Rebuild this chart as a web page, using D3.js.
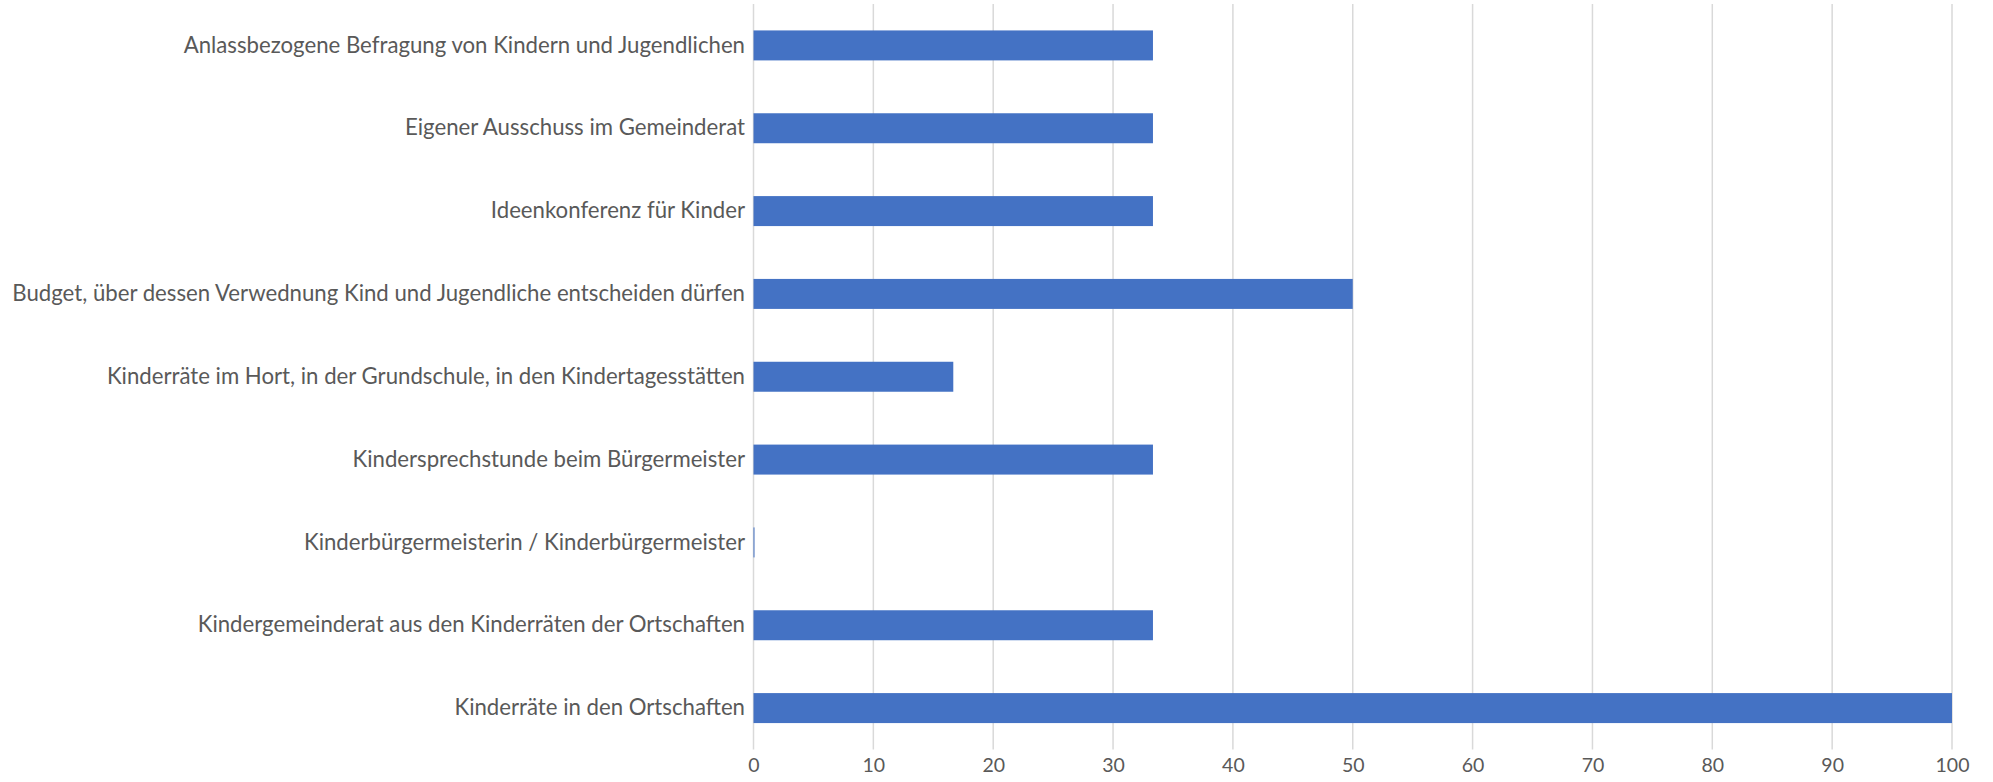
<!DOCTYPE html>
<html><head><meta charset="utf-8">
<script src="https://cdn.jsdelivr.net/npm/d3@7"></script>
<style>body{margin:0;background:#fff}svg{display:block}</style>
</head><body><svg id="c" width="1993" height="782"></svg>
<script>
const categories = [
  "Anlassbezogene Befragung von Kindern und Jugendlichen",
  "Eigener Ausschuss im Gemeinderat",
  "Ideenkonferenz für Kinder",
  "Budget, über dessen Verwednung Kind und Jugendliche entscheiden dürfen",
  "Kinderräte im Hort, in der Grundschule, in den Kindertagesstätten",
  "Kindersprechstunde beim Bürgermeister",
  "Kinderbürgermeisterin / Kinderbürgermeister",
  "Kindergemeinderat aus den Kinderräten der Ortschaften",
  "Kinderräte in den Ortschaften"
];
const values = [33.33, 33.33, 33.33, 50, 16.67, 33.33, 0, 33.33, 100];
const xTicks = [0,10,20,30,40,50,60,70,80,90,100];

const svg = d3.select("#c");
const m = {left: 753.5, right: 1993-1952, top: 4, bottom: 782-749.5};
const W = 1993, H = 782;
const x = d3.scaleLinear().domain([0,100]).range([m.left, W - m.right]);
const y = d3.scaleBand().domain(categories).range([m.top, H - m.bottom]).paddingInner(0.638).paddingOuter(0.319);
const font = "Lato, 'Carlito', 'Liberation Sans', sans-serif";

// gridlines
svg.append("g").selectAll("line").data(xTicks).join("line")
  .attr("x1", d => x(d)).attr("x2", d => x(d))
  .attr("y1", m.top).attr("y2", H - m.bottom)
  .attr("stroke", "#d9d9d9").attr("stroke-width", 1.5);

// bars
svg.append("g").selectAll("rect").data(values).join("rect")
  .attr("x", x(0))
  .attr("y", (d,i) => y(categories[i]))
  .attr("width", d => Math.max(1, x(d) - x(0)))
  .attr("height", y.bandwidth())
  .attr("fill", "#4472C4");

// x axis
const xa = svg.append("g").attr("transform", `translate(0,${H - m.bottom})`)
  .call(d3.axisBottom(x).tickValues(xTicks).tickSize(0).tickPadding(9).tickFormat(d3.format("d")));
xa.select(".domain").remove();
xa.selectAll("text").attr("fill", "#595959").style("font-family", font).style("font-size", "19.5px");

// y axis
const ya = svg.append("g").attr("transform", `translate(${m.left},0)`)
  .call(d3.axisLeft(y).tickSize(0).tickPadding(8.5));
ya.select(".domain").remove();
ya.selectAll("text").attr("fill", "#595959").style("font-family", font).style("font-size", "22.2px");
</script></body></html>
